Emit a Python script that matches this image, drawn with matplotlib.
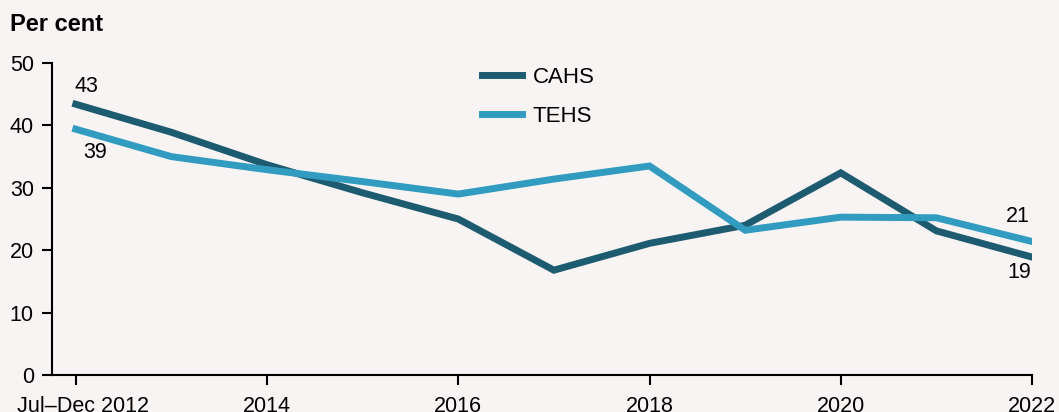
import matplotlib.pyplot as plt
import matplotlib.transforms as mtransforms
import numpy as np

plt.rcParams['font.family'] = ['Liberation Sans', 'DejaVu Sans']

# data
years = [2012, 2013, 2014, 2015, 2016, 2017, 2018, 2019, 2020, 2021, 2022]
cahs = [43.4, 38.9, 33.7, 29.2, 25.0, 16.8, 21.1, 24.0, 32.4, 23.1, 18.9]
tehs = [39.4, 35.0, 32.9, 31.0, 29.0, 31.4, 33.5, 23.2, 25.3, 25.2, 21.4]
tick_years = [2012, 2014, 2016, 2018, 2020, 2022]
tick_labels = ['Jul\u2013Dec 2012', '2014', '2016', '2018', '2020', '2022']

bg = '#f9f4f4'
c_cahs = '#1d5b70'
c_tehs = '#319cc0'
fs = 15.5

fig = plt.figure(figsize=(10.59, 4.12), dpi=100, facecolor=bg)
ax = fig.add_axes([0.049, 0.0898, 0.9255, 0.7572], facecolor=bg)

ax.plot(years, cahs, color=c_cahs, lw=5, label='CAHS', solid_joinstyle='miter')
ax.plot(years, tehs, color=c_tehs, lw=5, label='TEHS', solid_joinstyle='miter')

# end labels
ax.annotate('%.0f' % cahs[0], (years[0], cahs[0]), xytext=(8, 13), textcoords='offset points',
            ha='center', va='center', fontsize=fs)
ax.annotate('%.0f' % tehs[0], (years[0], tehs[0]), xytext=(14, -17), textcoords='offset points',
            ha='center', va='center', fontsize=fs)
ax.annotate('%.0f' % tehs[-1], (years[-1], tehs[-1]), xytext=(-10, 18), textcoords='offset points',
            ha='center', va='center', fontsize=fs)
ax.annotate('%.0f' % cahs[-1], (years[-1], cahs[-1]), xytext=(-9, -11), textcoords='offset points',
            ha='center', va='center', fontsize=fs)

ax.set_xlim(2011.75, 2022)
ax.set_ylim(0, 50)
ax.set_yticks([0, 10, 20, 30, 40, 50])
ax.set_xticks(tick_years)
ax.set_xticklabels(tick_labels)
ax.tick_params(labelsize=fs, length=7, width=1.5, color='black')
ax.tick_params(axis='x', pad=8)
ax.tick_params(axis='y', pad=6)

# nudge the first date label a little to the right
first = ax.get_xticklabels()[0]
first.set_transform(first.get_transform() + mtransforms.ScaledTranslation(0.07, 0, fig.dpi_scale_trans))

for s in ['top', 'right']:
    ax.spines[s].set_visible(False)
for s in ['left', 'bottom']:
    ax.spines[s].set_linewidth(1.5)

fig.text(0.009, 0.94, 'Per cent', fontsize=17, fontweight='bold', va='center')

ax.legend(loc='upper left', bbox_to_anchor=(0.455, 0.837), bbox_transform=fig.transFigure,
          frameon=False, fontsize=16, handlelength=1.8, labelspacing=0.8,
          handletextpad=0.5, borderpad=0, borderaxespad=0)

fig.savefig('out.png', dpi=100, facecolor=bg)
